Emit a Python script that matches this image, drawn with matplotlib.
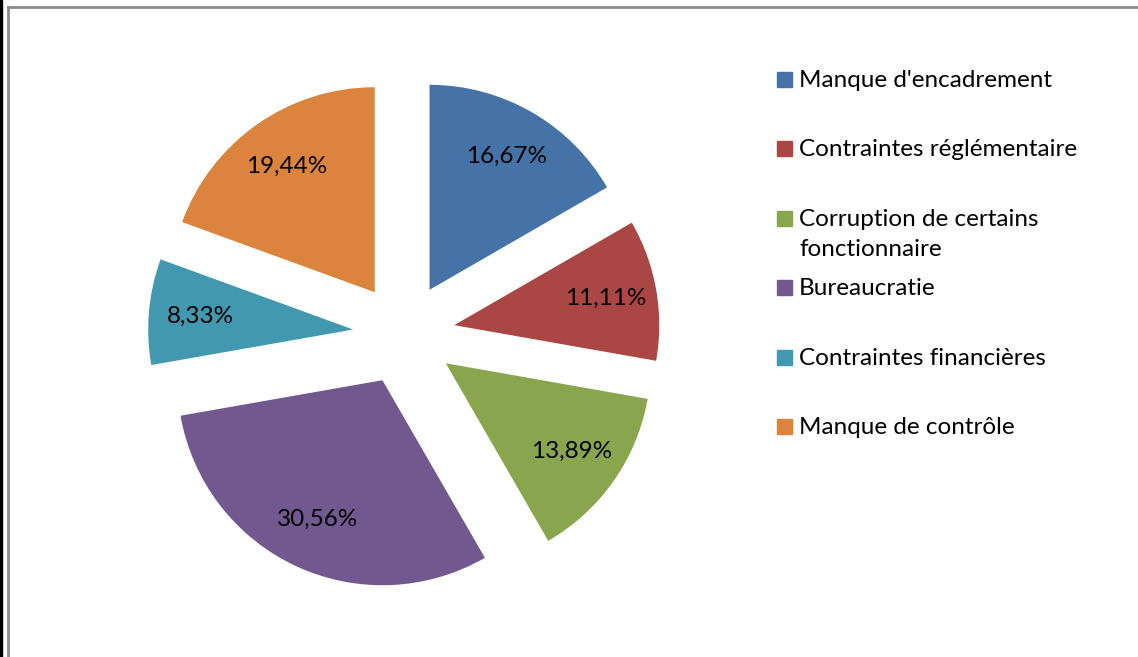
import matplotlib.pyplot as plt
from matplotlib.patches import Rectangle

plt.rcParams['font.family'] = ['Lato', 'DejaVu Sans']

# données
categories = ["Manque d'encadrement", "Contraintes réglémentaire",
              "Corruption de certains\nfonctionnaire", "Bureaucratie",
              "Contraintes financières", "Manque de contrôle"]
valeurs = [16.67, 11.11, 13.89, 30.56, 8.33, 19.44]
couleurs = ['#4572A7', '#AA4643', '#89A54E', '#71588F', '#4198AF', '#DB843D']

W, H = 1138, 657
fig = plt.figure(figsize=(W / 100, H / 100), dpi=100)
ax = fig.add_axes([0, 0, 1, 1])

# camembert éclaté, sens horaire depuis le haut
wedges, texts, autotexts = ax.pie(
    valeurs, colors=couleurs, startangle=90, counterclock=False,
    explode=[51] * len(valeurs), center=(404, H - 334), radius=205,
    autopct=lambda p: f"{p:.2f}".replace('.', ',') + '%', pctdistance=0.75,
    wedgeprops=dict(linewidth=0), textprops=dict(fontsize=17.5, color='black'),
    frame=True)
ax.set_xlim(0, W)
ax.set_ylim(0, H)
ax.set_aspect('equal')
ax.axis('off')

# légende faite à la main
for i, (cat, col) in enumerate(zip(categories, couleurs)):
    base = 87 + 69.4 * i
    ax.add_patch(Rectangle((777, H - base), 15, 15, color=col))
    for j, ligne in enumerate(cat.split('\n')):
        ax.text(799, H - base - 30 * j, ligne, fontsize=17.5,
                va='baseline', ha='left')

# cadre
ax.plot([8, 8], [0, H - 7], color='#8c8c8c', lw=2)
ax.plot([8, W], [H - 7, H - 7], color='#8c8c8c', lw=2)
ax.add_patch(Rectangle((0, 0), 2.5, H, color='black'))

fig.savefig('out.png', dpi=100)
